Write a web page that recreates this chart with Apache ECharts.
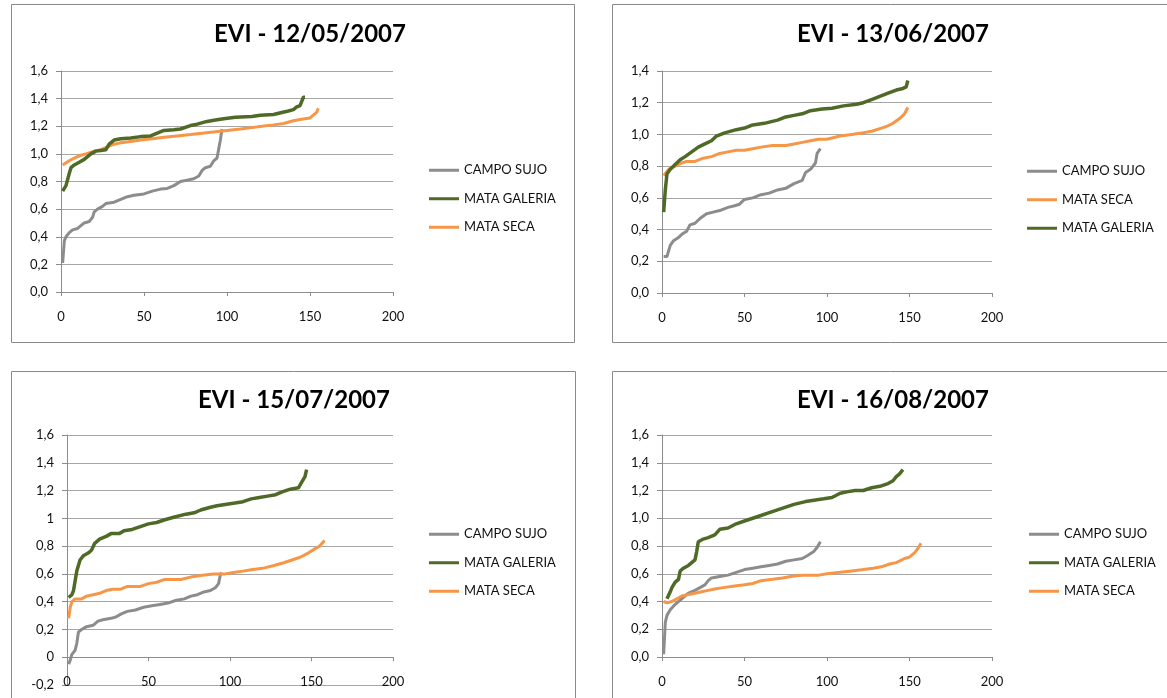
<!DOCTYPE html>
<html>
<head>
<meta charset="utf-8">
<script src="https://cdn.jsdelivr.net/npm/echarts@6/dist/echarts.min.js"></script>
<style>
html,body{margin:0;padding:0;background:#fff;}
#c{width:1167px;height:698px;}
</style>
</head>
<body>
<div id="c"></div>
<script>
// ---------- data ----------
const titles = ['EVI - 12/05/2007', 'EVI - 13/06/2007', 'EVI - 15/07/2007', 'EVI - 16/08/2007'];
const seriesNames = ['CAMPO SUJO', 'MATA GALERIA', 'MATA SECA'];
const legendOrder1 = ['CAMPO SUJO', 'MATA GALERIA', 'MATA SECA'];
const legendOrder2 = ['CAMPO SUJO', 'MATA SECA', 'MATA GALERIA'];
const xTicks = ['0', '50', '100', '150', '200'];
const yTicksA = ['0,0','0,2','0,4','0,6','0,8','1,0','1,2','1,4','1,6'];
const yTicksB = ['0,0','0,2','0,4','0,6','0,8','1,0','1,2','1,4'];
const yTicksC = ['-0,2','0','0,2','0,4','0,6','0,8','1','1,2','1,4','1,6'];

// Panel 1 (12/05/2007)
const p1Campo = [[1,0.21],[2,0.37],[3,0.40],[5,0.43],[7,0.45],[10,0.46],[12,0.48],[14,0.50],[17,0.51],[19,0.54],[20,0.58],[22,0.60],[25,0.62],[27,0.64],[32,0.65],[36,0.67],[40,0.69],[44,0.70],[50,0.71],[55,0.73],[60,0.745],[64,0.75],[68,0.77],[72,0.80],[76,0.81],[80,0.82],[83,0.84],[85,0.88],[87,0.90],[90,0.91],[92,0.95],[94,0.97],[95,0.98],[96,1.10],[97,1.18]];
const p1Galeria = [[1,0.73],[3,0.77],[5,0.86],[6,0.90],[8,0.92],[11,0.94],[14,0.96],[16,0.98],[18,1.00],[21,1.02],[24,1.025],[27,1.03],[29,1.07],[32,1.10],[36,1.11],[42,1.115],[48,1.125],[54,1.13],[58,1.15],[62,1.17],[68,1.175],[72,1.18],[78,1.205],[82,1.215],[88,1.235],[93,1.245],[98,1.255],[105,1.265],[115,1.27],[120,1.28],[128,1.285],[133,1.30],[137,1.31],[140,1.32],[142,1.34],[144,1.35],[145,1.36],[146,1.41],[147,1.41]];
const p1Seca = [[1,0.92],[5,0.95],[8,0.97],[12,0.99],[15,1.00],[20,1.02],[24,1.03],[28,1.05],[32,1.07],[36,1.08],[42,1.09],[48,1.10],[55,1.11],[62,1.12],[70,1.13],[78,1.14],[85,1.15],[93,1.16],[100,1.17],[108,1.18],[115,1.19],[121,1.20],[128,1.21],[134,1.22],[140,1.24],[145,1.25],[150,1.26],[152,1.28],[154,1.30],[155,1.33]];

// Panel 2 (13/06/2007)
const p2Campo = [[1,0.23],[3,0.23],[5,0.30],[7,0.33],[10,0.35],[12,0.37],[15,0.39],[17,0.43],[20,0.44],[23,0.47],[27,0.50],[31,0.51],[35,0.52],[40,0.54],[44,0.55],[47,0.56],[50,0.59],[55,0.60],[60,0.62],[65,0.63],[70,0.65],[75,0.66],[80,0.69],[85,0.71],[87,0.76],[90,0.78],[93,0.82],[94,0.88],[96,0.91]];
const p2Seca = [[1,0.74],[4,0.78],[8,0.80],[12,0.82],[15,0.83],[20,0.83],[25,0.85],[30,0.86],[35,0.88],[40,0.89],[45,0.90],[50,0.90],[55,0.91],[60,0.92],[67,0.93],[75,0.93],[80,0.94],[85,0.95],[90,0.96],[95,0.97],[100,0.97],[108,0.99],[115,1.00],[122,1.01],[127,1.02],[133,1.04],[136,1.05],[140,1.07],[144,1.10],[147,1.13],[149,1.17]];
const p2Galeria = [[1,0.51],[2,0.65],[3,0.75],[5,0.78],[8,0.81],[11,0.84],[14,0.86],[18,0.89],[22,0.92],[26,0.94],[30,0.96],[33,0.99],[38,1.01],[45,1.03],[50,1.04],[55,1.06],[62,1.07],[70,1.09],[75,1.11],[80,1.12],[85,1.13],[90,1.15],[97,1.16],[103,1.165],[110,1.18],[118,1.19],[122,1.20],[127,1.22],[132,1.24],[137,1.26],[142,1.28],[146,1.29],[148,1.30],[149,1.34]];

// Panel 3 (15/07/2007)
const p3Campo = [[1,-0.05],[2,-0.02],[3,0.02],[5,0.05],[6,0.10],[7,0.18],[9,0.20],[12,0.22],[16,0.23],[19,0.26],[22,0.27],[27,0.28],[30,0.29],[33,0.31],[37,0.33],[42,0.34],[47,0.36],[52,0.37],[57,0.38],[62,0.39],[67,0.41],[72,0.42],[76,0.44],[80,0.45],[84,0.47],[88,0.48],[91,0.50],[93,0.53],[94,0.59],[95,0.61]];
const p3Galeria = [[1,0.43],[3,0.45],[4,0.48],[5,0.55],[6,0.62],[8,0.70],[10,0.73],[13,0.75],[15,0.77],[17,0.82],[20,0.85],[24,0.87],[27,0.89],[32,0.89],[35,0.91],[40,0.92],[45,0.94],[50,0.96],[55,0.97],[60,0.99],[66,1.01],[73,1.03],[78,1.04],[82,1.06],[88,1.08],[92,1.09],[97,1.10],[103,1.11],[108,1.12],[113,1.14],[118,1.15],[123,1.16],[128,1.17],[132,1.19],[137,1.21],[142,1.22],[144,1.26],[146,1.30],[147,1.35]];
const p3Seca = [[1,0.28],[2,0.36],[3,0.40],[5,0.42],[9,0.42],[12,0.44],[16,0.45],[20,0.46],[24,0.48],[28,0.49],[33,0.49],[37,0.51],[45,0.51],[50,0.53],[55,0.54],[60,0.56],[70,0.56],[77,0.58],[83,0.59],[90,0.60],[97,0.60],[102,0.61],[108,0.62],[113,0.63],[120,0.64],[127,0.66],[133,0.68],[138,0.70],[143,0.72],[148,0.75],[152,0.78],[155,0.80],[158,0.84]];

// Panel 4 (16/08/2007)
const p4Campo = [[1,0.02],[2,0.25],[3,0.30],[5,0.34],[8,0.38],[10,0.40],[13,0.43],[16,0.46],[20,0.48],[23,0.50],[26,0.52],[28,0.55],[30,0.57],[35,0.58],[40,0.59],[45,0.61],[50,0.63],[55,0.64],[60,0.65],[65,0.66],[70,0.67],[75,0.69],[80,0.70],[85,0.71],[88,0.73],[92,0.76],[94,0.79],[96,0.83]];
const p4Galeria = [[3,0.42],[5,0.47],[6,0.50],[8,0.54],[10,0.56],[11,0.62],[13,0.64],[16,0.66],[18,0.68],[20,0.70],[21,0.76],[22,0.83],[25,0.85],[28,0.86],[32,0.88],[35,0.92],[40,0.93],[45,0.96],[50,0.98],[55,1.00],[60,1.02],[65,1.04],[70,1.06],[75,1.08],[80,1.10],[87,1.12],[92,1.13],[98,1.14],[103,1.15],[108,1.18],[112,1.19],[117,1.20],[122,1.20],[127,1.22],[132,1.23],[137,1.25],[140,1.27],[142,1.30],[144,1.32],[146,1.35]];
const p4Seca = [[1,0.40],[3,0.39],[6,0.40],[9,0.42],[12,0.44],[16,0.45],[20,0.46],[24,0.47],[28,0.48],[32,0.49],[37,0.50],[43,0.51],[50,0.52],[55,0.53],[60,0.55],[67,0.56],[73,0.57],[78,0.58],[85,0.59],[95,0.59],[100,0.60],[108,0.61],[115,0.62],[122,0.63],[128,0.64],[133,0.65],[138,0.67],[142,0.68],[147,0.71],[150,0.72],[153,0.75],[155,0.78],[157,0.82]];

// ---------- styling / layout ----------
const colors = {'CAMPO SUJO':'#8c8c8c','MATA GALERIA':'#4f6a27','MATA SECA':'#f79646'};
const FONT = 'Lato, "Open Sans", sans-serif';

const panels = [
  {title: titles[0], grid:{left:61, top:71, width:332, height:221}, ymin:0, ymax:1.6, ticks:yTicksA, legend:legendOrder1, legendPos:{left:429, top:162}, titlePos:[310,34],
   data:{'CAMPO SUJO':p1Campo,'MATA GALERIA':p1Galeria,'MATA SECA':p1Seca}},
  {title: titles[1], grid:{left:662, top:71, width:330, height:222}, ymin:0, ymax:1.4, ticks:yTicksB, legend:legendOrder2, legendPos:{left:1027, top:163}, titlePos:[893,34],
   data:{'CAMPO SUJO':p2Campo,'MATA GALERIA':p2Galeria,'MATA SECA':p2Seca}},
  {title: titles[2], grid:{left:67, top:435, width:326, height:250}, ymin:-0.2, ymax:1.6, ticks:yTicksC, legend:legendOrder1, legendPos:{left:429, top:526}, titlePos:[294,400],
   data:{'CAMPO SUJO':p3Campo,'MATA GALERIA':p3Galeria,'MATA SECA':p3Seca}},
  {title: titles[3], grid:{left:662, top:435, width:330, height:222}, ymin:0, ymax:1.6, ticks:yTicksA, legend:legendOrder1, legendPos:{left:1029, top:526}, titlePos:[893,400],
   data:{'CAMPO SUJO':p4Campo,'MATA GALERIA':p4Galeria,'MATA SECA':p4Seca}}
];

const grid = [], xAxis = [], yAxis = [], series = [], legend = [], graphic = [];

// panel frames
const frames = [[11,4,563,338],[612,4,600,338],[11,371,564,400],[612,371,600,400]];
frames.forEach(f => graphic.push({type:'rect', shape:{x:f[0]+0.5,y:f[1]+0.5,width:f[2],height:f[3]}, style:{fill:'none', stroke:'#8a8a8a', lineWidth:1}, silent:true, z:0}));

const labelFmtX = (v) => xTicks[Math.round(v/50)];

panels.forEach((p, i) => {
  grid.push(Object.assign({containLabel:false, outerBoundsMode:'none'}, p.grid));
  const crossesZero = p.ymin < 0;
  xAxis.push({
    type:'value', gridIndex:i, min:0, max:200, interval:50,
    axisLine:{show:true, onZero:true, lineStyle:{color:'#8c8c8c', width:1}},
    axisTick:{show:true, length:4, lineStyle:{color:'#8c8c8c'}},
    splitLine:{show:false},
    axisLabel:{show:!crossesZero, margin:18, fontFamily:FONT, fontSize:13, color:'#111', formatter:labelFmtX}
  });
  yAxis.push({
    type:'value', gridIndex:i, min:p.ymin, max:p.ymax, interval:0.2,
    axisLine:{show:true, lineStyle:{color:'#8c8c8c', width:1}},
    axisTick:{show:true, length:5, lineStyle:{color:'#8c8c8c'}},
    splitLine:{show:true, lineStyle:{color:'#a6a6a6', width:1}},
    axisLabel:{margin:13, fontFamily:FONT, fontSize:13, color:'#111',
      formatter:(v)=>p.ticks[Math.round((v - p.ymin)/0.2)]}
  });
  seriesNames.forEach(name => {
    series.push({
      type:'line', name:name, xAxisIndex:i, yAxisIndex:i,
      data:p.data[name], showSymbol:false, symbol:'none',
      lineStyle:{color:colors[name], width: name==='MATA GALERIA'?3.5:3},
      itemStyle:{color:colors[name]},
      z: name==='CAMPO SUJO'?3:(name==='MATA SECA'?4:5)
    });
  });
  legend.push({
    orient:'vertical', left:p.legendPos.left, top:p.legendPos.top,
    data:p.legend, icon:'rect', itemWidth:30, itemHeight:3, itemGap:12,
    padding:0, selectedMode:false,
    textStyle:{fontFamily:FONT, fontSize:13, color:'#111', lineHeight:16.5}
  });
  graphic.push({type:'text', x:p.titlePos[0], y:p.titlePos[1], silent:true,
    style:{text:p.title, align:'center', verticalAlign:'middle', font:'bold 24px ' + FONT, fill:'#000'}});
});

// panel 3: tick labels of the x axis sit at the bottom of the plot (Excel "low" label position)
xAxis.push({
  type:'value', gridIndex:2, min:0, max:200, interval:50, position:'bottom',
  axisLine:{show:false, onZero:false}, axisTick:{show:false}, splitLine:{show:false},
  axisLabel:{margin:-10, fontFamily:FONT, fontSize:13, color:'#111', formatter:labelFmtX}
});

const chart = echarts.init(document.getElementById('c'), null, {renderer:'canvas'});
chart.setOption({
  animation:false,
  backgroundColor:'#fff',
  grid, xAxis, yAxis, series, legend, graphic
});
</script>
</body>
</html>
